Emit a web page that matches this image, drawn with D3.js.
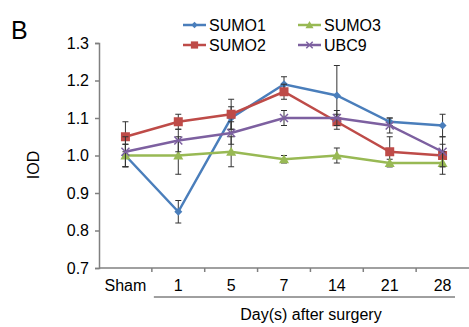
<!DOCTYPE html>
<html>
<head>
<meta charset="utf-8">
<script src="https://cdn.jsdelivr.net/npm/d3@7"></script>
<style>
  body { margin: 0; background: #fff; }
  svg { display: block; font-family: "Liberation Sans", Arial, sans-serif; }
</style>
</head>
<body>
<div id="chart"></div>
<script>
(function(){

  //categories along the x axis
  var days = ["Sham", "1", "5", "7", "14", "21", "28"];

  //series values (IOD)
  var sumo1 = [1.00, 0.85, 1.10, 1.19, 1.16, 1.09, 1.08];
  var sumo2 = [1.05, 1.09, 1.11, 1.17, 1.09, 1.01, 1.00];
  var sumo3 = [1.00, 1.00, 1.01, 0.99, 1.00, 0.98, 0.98];
  var ubc9  = [1.01, 1.04, 1.06, 1.10, 1.10, 1.08, 1.01];

  //error bar half widths
  var sumo1Err = [0.03, 0.03, 0.03, 0.02, 0.08, 0.01, 0.03];
  var sumo2Err = [0.04, 0.02, 0.04, 0.02, 0.02, 0.04, 0.03];
  var sumo3Err = [0.03, 0.05, 0.04, 0.01, 0.02, 0.01, 0.03];
  var ubc9Err  = [0.04, 0.03, 0.03, 0.02, 0.02, 0.02, 0.04];

  var yTicks = [0.7, 0.8, 0.9, 1.0, 1.1, 1.2, 1.3];

  var series = [
    {name: "SUMO1", values: sumo1, err: sumo1Err, color: "#4a7ebb", marker: "diamond"},
    {name: "SUMO2", values: sumo2, err: sumo2Err, color: "#be4b48", marker: "square"},
    {name: "SUMO3", values: sumo3, err: sumo3Err, color: "#98b954", marker: "triangle"},
    {name: "UBC9",  values: ubc9,  err: ubc9Err,  color: "#7d60a0", marker: "cross"}
  ];

  var width = 469, height = 327;

  var svg = d3.select("#chart")
      .append("svg")
      .attr("width", width)
      .attr("height", height);

  var x = d3.scaleBand()
      .domain(days)
      .range([99, 469]);

  var y = d3.scaleLinear()
      .domain([0.7, 1.3])
      .range([268, 43]);

  var axisColor = "#808080";

  //panel letter
  svg.append("text")
      .attr("x", 11)
      .attr("y", 39)
      .style("font-size", "25px")
      .text("B");

  //y axis
  var yAxis = svg.append("g")
      .attr("transform", "translate(99,0)")
      .call(d3.axisLeft(y).tickValues(yTicks).tickSize(4).tickPadding(6)
        .tickFormat(d3.format(".1f")));
  yAxis.select(".domain").attr("stroke", axisColor).attr("stroke-width", 1.5);
  yAxis.selectAll(".tick line").attr("stroke", axisColor).attr("stroke-width", 1.5);
  yAxis.selectAll(".tick text")
      .attr("fill", "#000")
      .style("font-size", "16px")
      .style("font-family", "Liberation Sans, Arial, sans-serif");

  svg.append("text")
      .attr("transform", "translate(39,165) rotate(-90)")
      .attr("text-anchor", "middle")
      .style("font-size", "16px")
      .text("IOD");

  //x axis: ticks sit on category boundaries
  var xg = svg.append("g");
  xg.append("line")
      .attr("x1", 99).attr("x2", 469)
      .attr("y1", y(0.7)).attr("y2", y(0.7))
      .attr("stroke", axisColor).attr("stroke-width", 1.5);
  xg.selectAll(".xtick")
      .data(days.slice(1))
      .enter()
      .append("line")
      .attr("class", "xtick")
      .attr("x1", function(d){ return x(d); })
      .attr("x2", function(d){ return x(d); })
      .attr("y1", y(0.7)).attr("y2", y(0.7) + 4)
      .attr("stroke", axisColor).attr("stroke-width", 1.5);
  xg.selectAll(".xlabel")
      .data(days)
      .enter()
      .append("text")
      .attr("class", "xlabel")
      .attr("text-anchor", "middle")
      .attr("x", function(d){ return x(d) + x.bandwidth() / 2; })
      .attr("y", 291)
      .style("font-size", "16px")
      .text(function(d){ return d; });

  //underline grouping the post-surgery days
  svg.append("line")
      .attr("x1", x("1") + 2).attr("x2", 455)
      .attr("y1", 297).attr("y2", 297)
      .attr("stroke", "#404040").attr("stroke-width", 1);

  svg.append("text")
      .attr("x", 311)
      .attr("y", 320)
      .attr("text-anchor", "middle")
      .style("font-size", "16px")
      .text("Day(s) after surgery");

  function cx(i){ return x(days[i]) + x.bandwidth() / 2; }

  //draw a marker shape at the given point
  function drawMarker(g, type, px, py, color, scale){
    var s = scale || 1;
    if (type == "diamond") {
      var r = 4 * s;
      g.append("path")
          .attr("d", "M" + px + "," + (py - r) + "L" + (px + r) + "," + py +
                "L" + px + "," + (py + r) + "L" + (px - r) + "," + py + "Z")
          .attr("fill", color);
    } else if (type == "square") {
      var h = 4.5 * s;
      g.append("rect")
          .attr("x", px - h).attr("y", py - h)
          .attr("width", 2 * h).attr("height", 2 * h)
          .attr("fill", color);
    } else if (type == "triangle") {
      var t = 5 * s;
      g.append("path")
          .attr("d", "M" + px + "," + (py - t) + "L" + (px + t) + "," + (py + t * 0.8) +
                "L" + (px - t) + "," + (py + t * 0.8) + "Z")
          .attr("fill", color);
    } else {
      var c = 4 * s;
      g.append("path")
          .attr("d", "M" + (px - c) + "," + (py - c) + "L" + (px + c) + "," + (py + c) +
                "M" + (px - c) + "," + (py + c) + "L" + (px + c) + "," + (py - c))
          .attr("stroke", color).attr("stroke-width", 1.5).attr("fill", "none");
    }
  }

  var line = d3.line()
      .x(function(d, i){ return cx(i); })
      .y(function(d){ return y(d); });

  series.forEach(function(s){
    var g = svg.append("g");

    g.append("path")
        .datum(s.values)
        .attr("d", line)
        .attr("fill", "none")
        .attr("stroke", s.color)
        .attr("stroke-width", 2.5);

    //error bars
    s.values.forEach(function(v, i){
      var px = cx(i);
      var top = y(v + s.err[i]), bot = y(v - s.err[i]);
      g.append("line")
          .attr("x1", px).attr("x2", px)
          .attr("y1", top).attr("y2", bot)
          .attr("stroke", "#333").attr("stroke-width", 1);
      [top, bot].forEach(function(yy){
        g.append("line")
            .attr("x1", px - 3).attr("x2", px + 3)
            .attr("y1", yy).attr("y2", yy)
            .attr("stroke", "#333").attr("stroke-width", 1);
      });
    });

    s.values.forEach(function(v, i){
      drawMarker(g, s.marker, cx(i), y(v), s.color);
    });
  });

  //legend, two columns
  var legend = svg.append("g");
  series.forEach(function(s, i){
    var lx = i < 2 ? 183 : 298;
    var ly = i % 2 == 0 ? 25 : 45;
    legend.append("line")
        .attr("x1", lx).attr("x2", lx + 23)
        .attr("y1", ly).attr("y2", ly)
        .attr("stroke", s.color).attr("stroke-width", 2.5);
    drawMarker(legend, s.marker, lx + 11.5, ly, s.color, 0.8);
    legend.append("text")
        .attr("x", lx + 26)
        .attr("y", ly + 6)
        .style("font-size", "16px")
        .text(s.name);
  });

})();
</script>
</body>
</html>
